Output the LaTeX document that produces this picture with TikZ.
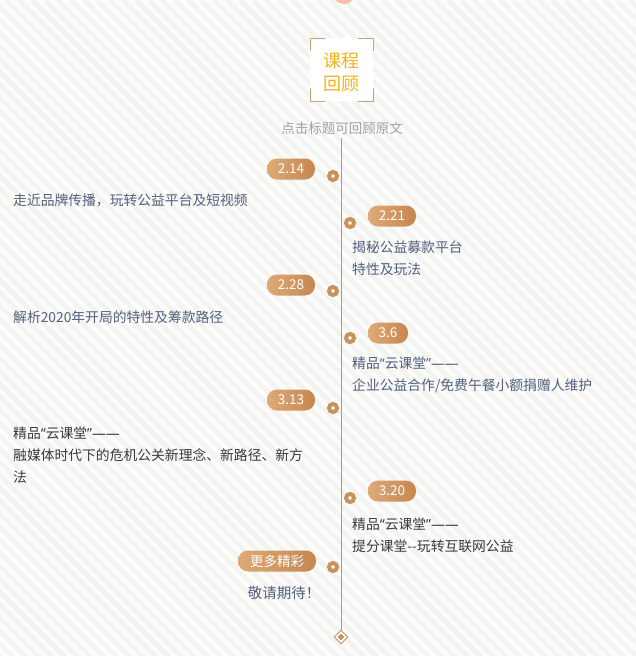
\documentclass[tikz,border=0pt]{standalone}
\usepackage{fontspec}
\setmainfont{Noto Sans CJK SC}
\newfontfamily\qfont{Noto Sans}
\usetikzlibrary{shapes.geometric}
\definecolor{mytan}{HTML}{C9925C}
\definecolor{badgeL}{HTML}{DDAA78}
\definecolor{badgeR}{HTML}{C68650}
\definecolor{slate}{HTML}{52607F}
\definecolor{darktxt}{HTML}{3A3A3A}
\definecolor{goldtxt}{HTML}{F4B41A}
\definecolor{graytxt}{HTML}{A3A3A3}
\definecolor{bgc}{HTML}{FCFCFA}
\definecolor{stripec}{HTML}{F3F3EF}
\definecolor{peach}{HTML}{F6BFA6}
\definecolor{bracketc}{HTML}{C9A27C}
\newcommand{\jingpin}{精品{\qfont “}云课堂{\qfont ”——}}
\tikzset{
  stripe/.style={stripec, line width=4.5pt},
  dotnode/.style={circle, draw=mytan, line width=4pt, fill=white, inner sep=0pt, minimum size=8pt},
  badge/.style={rounded corners=10pt, left color=badgeL, right color=badgeR, draw=none, text=white,
    font=\fontsize{13.5}{15}\selectfont, minimum height=21pt, inner sep=0pt},
  ltxt/.style={anchor=west, inner sep=0pt, font=\fontsize{13.8}{16}\selectfont, text=slate},
  dtxt/.style={anchor=west, inner sep=0pt, font=\fontsize{13.8}{16}\selectfont, text=darktxt},
  bracket/.style={bracketc, line width=0.9pt},
  tline/.style={mytan, line width=1pt}
}
\begin{document}
\begin{tikzpicture}[x=1pt,y=-1pt]
\useasboundingbox (0,0) rectangle (636,656);
\fill[bgc] (0,0) rectangle (636,656);
\begin{scope}
  \clip (0,0) rectangle (636,656);
  \foreach \i in {-670,-657,...,640} \draw[stripe] (\i,0) -- ++(660,660);
  \fill[peach] (344,-8) circle (12);
\end{scope}
% title block
\fill[white] (310,38) rectangle (373,101);
\draw[bracket] (310,51) -- (310,38) -- (325,38);
\draw[bracket] (358,38) -- (373,38) -- (373,51);
\draw[bracket] (310,88) -- (310,101) -- (325,101);
\draw[bracket] (358,101) -- (373,101) -- (373,88);
\node[text=goldtxt, font=\fontsize{18}{23}\selectfont, align=center, inner sep=0pt] (title) at (341,72) {课程\\回顾};
\node[text=graytxt, font=\fontsize{13.5}{15}\selectfont, inner sep=0pt] (hint) at (342,128) {点击标题可回顾原文};
% timeline
\coordinate (top) at (341,138);
\node[diamond, draw=mytan, fill=white, line width=0.9pt, minimum size=14pt, inner sep=0pt] (end) at (341,637) {};
\node[diamond, fill=mytan, minimum size=7pt, inner sep=0pt] (endin) at (end) {};
\draw[tline] (top) -- (end.north);
% dots
\node[dotnode] (d1) at (333,176) {};
\node[dotnode] (d2) at (350,223) {};
\node[dotnode] (d3) at (333,291) {};
\node[dotnode] (d4) at (350,338) {};
\node[dotnode] (d5) at (333,408) {};
\node[dotnode] (d6) at (350,498) {};
\node[dotnode] (d7) at (333,567) {};
% badges
\node[badge, minimum width=48pt] (b1) at (291,169) {2.14};
\node[badge, minimum width=48pt] (b2) at (392,216) {2.21};
\node[badge, minimum width=48pt] (b3) at (291,285) {2.28};
\node[badge, minimum width=40pt] (b4) at (388,333) {3.6};
\node[badge, minimum width=48pt] (b5) at (291,400) {3.13};
\node[badge, minimum width=48pt] (b6) at (392,491) {3.20};
\node[badge, minimum width=78pt] (b7) at (277,561) {更多精彩};
% texts
\node[ltxt] (t1) at (13,200) {走近品牌传播，玩转公益平台及短视频};
\node[ltxt] (t2a) at (352,247) {揭秘公益募款平台};
\node[ltxt] (t2b) at (352,269) {特性及玩法};
\node[ltxt] (t3) at (13,317) {解析2020年开局的特性及筹款路径};
\node[ltxt] (t4a) at (352,363) {\jingpin};
\node[ltxt] (t4b) at (352,386) {企业公益合作/免费午餐小额捐赠人维护};
\node[dtxt] (t5a) at (13,433) {\jingpin};
\node[dtxt] (t5b) at (13,455) {融媒体时代下的危机公关新理念、新路径、新方};
\node[dtxt] (t5c) at (13,477) {法};
\node[dtxt] (t6a) at (352,524) {\jingpin};
\node[dtxt] (t6b) at (352,546) {提分课堂-{}-玩转互联网公益};
\node[text=slate, font=\fontsize{14.5}{16}\selectfont, inner sep=0pt] (t7) at (284,593) {敬请期待！};
\end{tikzpicture}
\end{document}
